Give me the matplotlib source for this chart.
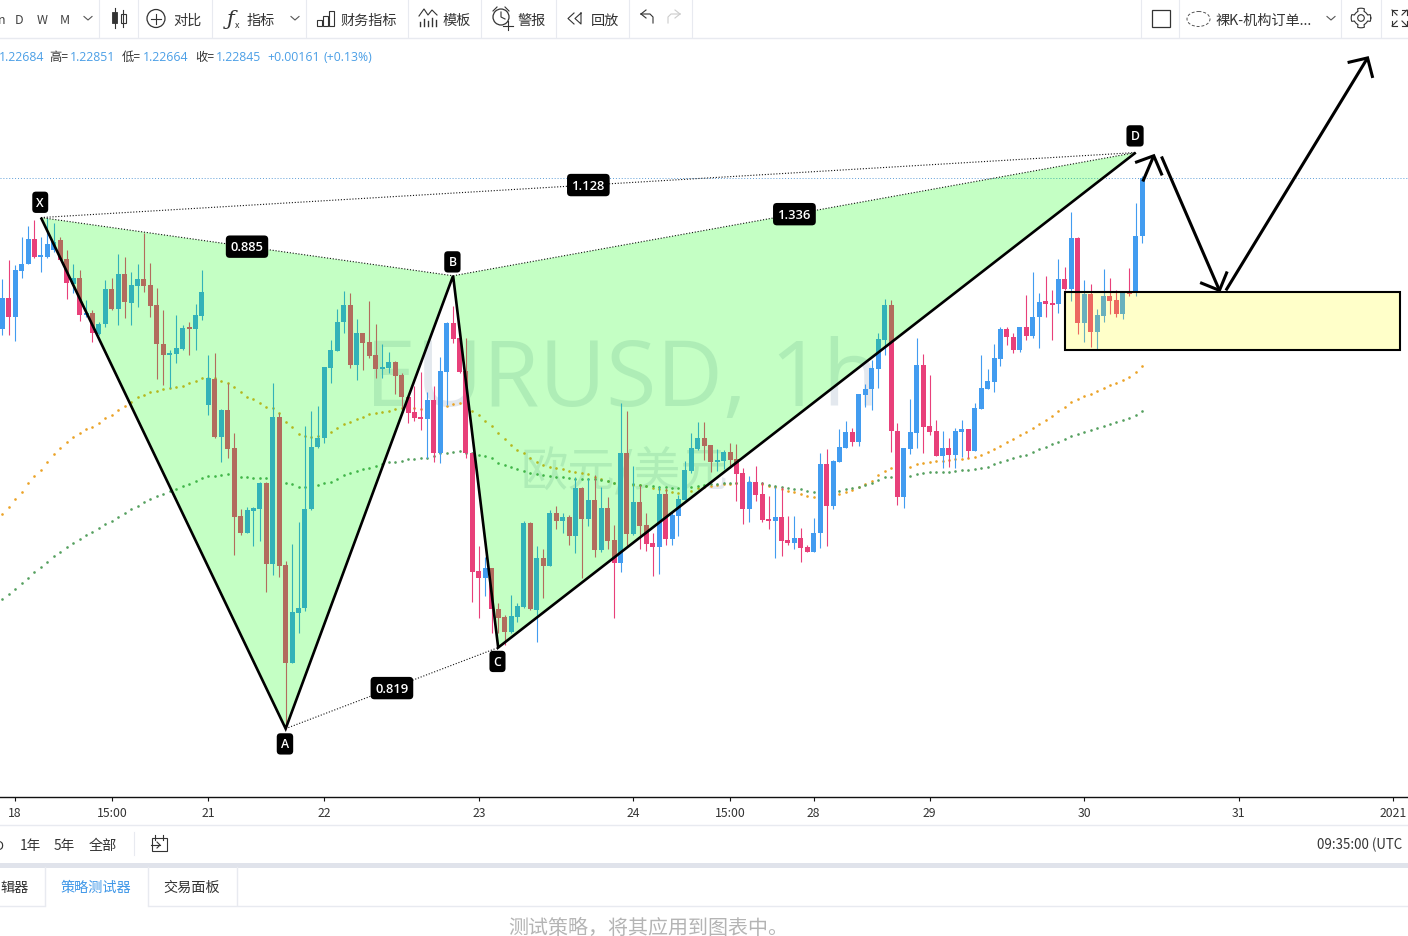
import matplotlib
matplotlib.use("Agg")
import matplotlib.pyplot as plt
import numpy as np
from matplotlib.lines import Line2D
from matplotlib.patches import Polygon, Rectangle, Circle, Ellipse
from matplotlib.transforms import Affine2D

plt.rcParams['font.family'] = ['Noto Sans CJK SC', 'DejaVu Sans']

# ---------- data: prices are in 1e-5 above 1.21000 ----------
open_pts = [1424,1511,1457,1586,1606,1676,1625,1625,1645,1673,
 1620,1550,1567,1463,1469,1410,1438,1536,1480,1578,
 1497,1544,1564,1547,1491,1382,1351,1354,1368,1427,
 1424,1460,1211,1284,1121,1197,1091,900,853,914,
 920,993,766,1177,763,489,629,643,920,1093,
 1119,1315,1362,1443,1491,1323,1413,1387,1351,1312,
 1315,1331,1295,1233,1191,1177,1172,1225,1077,1303,
 1441,1399,1306,1077,746,727,755,640,617,575,
 617,645,881,637,783,760,909,886,897,844,
 979,892,945,805,923,833,769,1077,850,939,
 875,825,813,962,836,900,945,1026,1088,1119,
 1099,1051,1054,1079,1060,1021,920,995,962,892,
 886,897,833,825,839,813,799,853,1046,928,
 1051,1091,1135,1107,1239,1256,1312,1393,1491,1138,
 953,1088,1133,1323,1152,1138,1068,1091,1071,1135,
 1144,1082,1200,1256,1275,1340,1424,1401,1365,1429,
 1404,1457,1502,1497,1494,1564,1536,1679,1441,1522,
 1415,1460,1516,1505,1466,1525,1525,1684]
close_pts = [1511,1457,1589,1606,1676,1625,1628,1662,1667,1617,
 1553,1567,1463,1469,1413,1438,1536,1480,1578,1499,
 1547,1564,1544,1488,1382,1351,1357,1371,1427,1424,
 1463,1527,1287,1121,1197,1088,897,853,917,923,
 993,766,1177,760,489,631,643,920,1093,1119,
 1317,1365,1443,1491,1323,1413,1385,1348,1312,1317,
 1331,1292,1233,1189,1175,1172,1225,1077,1306,1441,
 1396,1303,1077,743,727,755,640,615,575,620,
 648,881,640,783,760,909,886,897,844,979,
 892,945,805,923,830,769,1077,850,939,872,
 822,813,962,836,903,948,1029,1091,1119,1096,
 1051,1057,1079,1057,1018,920,995,959,889,886,
 897,830,825,839,811,799,853,1046,928,1054,
 1093,1135,1107,1242,1256,1315,1396,1491,1138,953,
 1091,1135,1323,1149,1135,1068,1091,1071,1138,1144,
 1082,1203,1259,1278,1343,1424,1401,1365,1429,1404,
 1457,1499,1494,1491,1564,1536,1679,1441,1522,1415,
 1463,1516,1502,1466,1525,1522,1684,1845]
high_pts = [1564,1617,1603,1681,1712,1729,1681,1735,1721,1681,
 1645,1606,1589,1505,1477,1443,1561,1567,1634,1625,
 1583,1606,1693,1609,1539,1477,1365,1463,1435,1443,
 1494,1589,1351,1357,1200,1273,1133,920,925,925,
 995,995,1273,1189,774,822,883,1152,1194,1208,
 1317,1393,1480,1530,1525,1452,1413,1502,1438,1382,
 1359,1334,1301,1239,1264,1303,1247,1264,1345,1443,
 1488,1399,1399,1077,816,785,755,657,623,679,
 657,886,883,816,808,917,928,909,903,1009,
 981,1007,1015,981,953,875,1217,1194,1040,987,
 909,853,984,979,911,959,1054,1133,1163,1163,
 1099,1088,1085,1105,1102,1035,1012,1040,995,956,
 981,981,900,900,867,819,895,1077,1088,1057,
 1144,1166,1147,1242,1270,1337,1413,1508,1505,1161,
 1091,1228,1399,1354,1295,1169,1138,1119,1147,1169,
 1144,1217,1351,1312,1382,1429,1429,1413,1429,1519,
 1583,1525,1572,1533,1620,1597,1751,1681,1561,1550,
 1480,1592,1567,1533,1525,1595,1777,1851]
low_pts = [1407,1407,1390,1567,1606,1623,1583,1623,1639,1617,
 1508,1525,1446,1457,1387,1407,1429,1477,1435,1455,
 1435,1485,1527,1457,1284,1267,1259,1329,1365,1351,
 1365,1449,1183,1119,1051,1063,791,847,853,816,
 830,687,735,729,304,489,573,634,917,1091,
 1105,1273,1362,1413,1315,1281,1309,1343,1287,1287,
 1301,1242,1200,1161,1166,1141,1063,1051,1049,1211,
 1385,1301,1063,659,615,676,573,573,539,573,
 603,643,637,547,671,760,864,853,819,797,
 727,872,785,799,808,615,743,813,847,808,
 802,732,738,819,819,844,945,1021,1085,1057,
 1023,1026,1032,1035,942,878,883,942,883,864,
 783,788,819,808,771,799,799,811,816,920,
 1051,1091,1096,1096,1205,1197,1259,1351,1079,931,
 923,1074,1091,1077,1127,1068,1035,1037,1035,1065,
 1063,1082,1200,1256,1247,1320,1379,1357,1359,1393,
 1399,1371,1457,1393,1469,1533,1502,1410,1387,1373,
 1368,1443,1466,1457,1452,1516,1516,1664]
ma_orange = [906,925,948,967,993,1012,1029,1051,1074,1091,
 1107,1121,1133,1144,1149,1161,1175,1183,1197,1208,
 1219,1233,1239,1247,1250,1256,1259,1261,1264,1273,
 1278,1287,1287,1287,1278,1273,1261,1247,1233,1228,
 1217,1205,1203,1189,1163,1149,1130,1124,1121,1124,
 1127,1135,1147,1158,1163,1172,1177,1186,1189,1191,
 1194,1200,1203,1203,1203,1200,1203,1203,1205,1208,
 1214,1217,1211,1194,1183,1166,1152,1133,1116,1099,
 1085,1077,1063,1051,1043,1037,1035,1032,1026,1023,
 1021,1018,1009,1004,998,993,990,987,987,987,
 984,979,976,973,967,965,965,970,979,981,
 984,987,990,990,993,993,993,993,990,984,
 981,976,970,967,962,956,953,956,959,962,
 962,967,973,981,990,998,1015,1026,1035,1035,
 1035,1037,1046,1049,1051,1054,1054,1057,1060,1060,
 1063,1065,1071,1079,1088,1096,1107,1116,1127,1135,
 1147,1158,1169,1180,1194,1205,1219,1228,1236,1242,
 1250,1259,1267,1273,1281,1289,1303,1320]
ma_green = [668,682,696,713,727,743,757,771,788,799,
 813,825,836,847,855,867,878,886,897,909,
 920,928,939,948,956,962,970,976,984,990,
 998,1007,1012,1012,1015,1018,1012,1009,1009,1007,
 1007,1007,1001,995,993,990,981,981,981,987,
 993,995,1004,1015,1021,1026,1032,1035,1040,1046,
 1051,1051,1054,1060,1060,1063,1063,1068,1077,1077,
 1079,1082,1077,1077,1071,1068,1063,1049,1043,1037,
 1032,1026,1021,1018,1015,1012,1009,1009,1007,1004,
 1004,1004,1004,1001,998,993,990,990,990,987,
 984,984,981,981,979,979,976,981,984,987,
 990,990,993,993,993,995,995,993,993,987,
 984,981,979,976,976,970,967,970,970,970,
 970,976,979,981,987,993,1001,1009,1009,1009,
 1012,1012,1018,1021,1023,1023,1023,1023,1026,1029,
 1029,1032,1035,1037,1046,1051,1057,1063,1068,1071,
 1079,1088,1093,1102,1107,1116,1124,1130,1135,1141,
 1147,1152,1158,1163,1169,1175,1183,1194]

tick_idx = [2, 17, 32, 50, 74, 98, 113, 126, 144, 168, 192, 216]
tick_labels = ['18', '15:00', '21', '22', '23', '24', '15:00', '28', '29', '30', '31', '2021']

# harmonic pattern pivots (bar index, price)
pattern_names = ['X', 'A', 'B', 'C', 'D']
pattern_idx = [6, 44, 70, 77, 176]
pattern_price = [1735, 304, 1572, 531, 1917]
ratio_labels = ['0.885', '0.819', '1.128', '1.336']
last_close = 1845

zone_idx = [165, 217]
zone_price = [1365, 1527]

arrow_idx = [[177.1, 178.8], [180.0, 189.0], [190.0, 212.0]]
arrow_price = [[1836, 1908], [1906, 1531], [1531, 2182]]
barb_idx = [[175.9, 180.1], [186.0, 190.2], [208.9, 212.8]]
barb_price = [[1889, 1853], [1553, 1584], [2169, 2126]]

header_parts = [('1.22684', -1, 1), ('高=', 49, 0), ('1.22851', 70, 1), ('低=', 122, 0), ('1.22664', 143, 1),
                ('收=', 195, 0), ('1.22845', 216, 1), ('+0.00161', 267, 1), ('(+0.13%)', 323, 1)]

# ---------- figure ----------
W, H = 1408, 937
fig = plt.figure(figsize=(W / 100, H / 100), dpi=100, facecolor='white')
px = Affine2D().scale(1, -1).translate(0, H)
PXW = 6.44

ax = fig.add_axes([0, (H - 797.7) / H, 1, (797 - 39) / H])
ax.set_xlim((0 - 2.3) / PXW, (W - 2.3) / PXW)
ax.set_ylim(113.4, 2235.8)
for s in ['top', 'left', 'right']:
    ax.spines[s].set_visible(False)
ax.spines['bottom'].set_color('#111111')
ax.spines['bottom'].set_linewidth(1.0)
ax.set_yticks([])
ax.set_xticks(tick_idx)
ax.set_xticklabels(tick_labels, fontsize=8.8, color='#333333')
ax.tick_params(axis='x', length=2.6, width=0.8, pad=3.8, color='#111111')

UP, DOWN = '#429cf0', '#e8407a'
idx = np.arange(len(open_pts))
o, h, l, c = map(np.array, (open_pts, high_pts, low_pts, close_pts))
cols = [UP if cc >= oo else DOWN for oo, cc in zip(o, c)]

# watermark
ax.text(622, 406, 'EURUSD, 1h', transform=px, ha='center', va='baseline',
        fontsize=66, color='#e3e8ee', family=['Open Sans', 'DejaVu Sans'], zorder=0.5)
ax.text(624, 473, '欧元/美元', transform=px, ha='center', va='center', fontsize=34, color='#e3e8ee', zorder=0.5)

ax.axhline(last_close, color='#5f9fd8', lw=0.7, ls=(0, (1, 2)), zorder=1)

ax.plot(idx, ma_orange, ls='none', marker='o', ms=1.9, mew=0, color='#eba327', zorder=2)
ax.plot(idx, ma_green, ls='none', marker='o', ms=1.9, mew=0, color='#55a05f', zorder=2)

ax.vlines(idx, l, h, colors=cols, lw=0.8, zorder=3)
heights = np.maximum(np.abs(c - o), 4)
ax.bar(idx, heights, bottom=np.minimum(o, c), width=5 / PXW, color=cols, lw=0, zorder=3)

# pattern
pts = np.column_stack([pattern_idx, pattern_price]).astype(float)
X, A, B, C, D = pts
ax.add_patch(Polygon([X, A, B], closed=True, fc=(0, 1, 0), alpha=0.23, lw=0, zorder=4))
ax.add_patch(Polygon([B, C, D], closed=True, fc=(0, 1, 0), alpha=0.23, lw=0, zorder=4))
ax.plot(*zip(X, A, B, C, D), color='black', lw=1.9, zorder=6, solid_joinstyle='miter', solid_capstyle='butt')
pairs = [(X, B), (A, C), (X, D), (B, D)]
for (p, q), lab in zip(pairs, ratio_labels):
    ax.plot(*zip(p, q), color='#111111', lw=0.8, ls=(0, (1, 1.6)), zorder=5)
    ax.text((p[0] + q[0]) / 2, (p[1] + q[1]) / 2, lab, color='white', fontsize=9.4, fontweight='semibold',
            ha='center', va='center', family=['Open Sans', 'DejaVu Sans'], zorder=8,
            bbox=dict(boxstyle='round,pad=0.36,rounding_size=0.3', fc='black', ec='black', lw=0))
offs = [11, -11, 10, -10, 12]
for name, p, off in zip(pattern_names, pts, offs):
    ax.annotate(name, xy=p, xytext=(-0.5, off), textcoords='offset points', color='white', fontsize=8.8,
                fontweight='semibold', ha='center', va='center', family=['Open Sans', 'DejaVu Sans'], zorder=8,
                bbox=dict(boxstyle='round,pad=0.34,rounding_size=0.3', fc='black', ec='black', lw=0))

# zone
ax.add_patch(Rectangle((zone_idx[0], zone_price[0]), zone_idx[1] - zone_idx[0], zone_price[1] - zone_price[0],
                       fc=(1, 1, 0, 0.21), ec='black', lw=1.5, zorder=5))

# hand-drawn arrows
for (xs, ys, bx, by) in zip(arrow_idx, arrow_price, barb_idx, barb_price):
    ax.plot(xs, ys, color='black', lw=2.2, zorder=7, solid_capstyle='butt')
    ax.plot([bx[0], xs[1], bx[1]], [by[0], ys[1], by[1]], color='black', lw=2.2, zorder=7,
            solid_joinstyle='miter', solid_capstyle='butt')


# ---------- surrounding interface ----------
def ui(xs, ys, color='#333333', lw=0.8, **kw):
    fig.add_artist(Line2D(xs, ys, transform=px, color=color, lw=lw, **kw))


def txt(x, y, s, size=10.2, color='#333333', ha='center', **kw):
    fig.text(x, y + 1.2, s, transform=px, fontsize=size, color=color, ha=ha, va='center', **kw)


SEP = '#e8eaf0'
ui([0, W], [38.5, 38.5], SEP, 1)
for x in [99, 137.5, 212, 306, 407.5, 481, 556, 629, 692, 1141, 1179, 1341, 1381]:
    ui([x, x], [0, 38], SEP, 0.8)
for x, s in [(2, 'n'), (19, 'D'), (42, 'W'), (65, 'M')]:
    txt(x, 19, s, 9, '#444444')
for x in (88, 295, 1331):
    ui([x - 4, x, x + 4], [17.5, 21, 17.5], '#555555', 0.8)

# candle icon
ui([114.5, 114.5], [9, 29]); ui([123, 123], [11, 28])
fig.add_artist(Rectangle((112, 13), 5, 11, transform=px, fc='#333333', ec='#333333', lw=0.6))
fig.add_artist(Rectangle((120.5, 15), 5, 9, transform=px, fc='white', ec='#333333', lw=0.8))
# compare
fig.add_artist(Circle((156, 19.5), 9, transform=px, fc='none', ec='#333333', lw=0.9))
ui([151, 161], [19.5, 19.5]); ui([156, 156], [14.5, 24.5])
txt(187, 20, '对比')
# indicators
txt(231, 18, 'ƒ', 15, '#333333', style='italic', family='DejaVu Serif')
txt(237, 24, 'x', 6.5)
txt(261, 20, '指标')
# financials
for x0, y0 in [(317, 21), (323, 17), (329, 12)]:
    fig.add_artist(Rectangle((x0, y0), 5, 27 - y0, transform=px, fc='none', ec='#333333', lw=0.8))
txt(369, 20, '财务指标')
# templates
ui([419, 424, 428, 432, 437], [17, 10, 16, 11, 16], '#333333', 0.8)
for x0, y0 in [(420, 23), (424, 20), (428, 22), (432, 19), (436, 21)]:
    ui([x0, x0], [y0, 27], '#333333', 1)
txt(457, 20, '模板')
# alarm
fig.add_artist(Circle((501, 18), 8, transform=px, fc='none', ec='#333333', lw=0.9))
ui([501, 501, 505], [13, 18, 20]); ui([508, 508], [22, 31]); ui([503, 513], [26.5, 26.5])
ui([493, 497], [12, 8]); ui([505, 509], [8, 12])
txt(532, 20, '警报')
# replay
ui([574, 568, 574], [14, 19.5, 25]); ui([581, 575, 581, 581], [14, 19.5, 25, 14])
txt(605, 20, '回放')
# undo/redo
ui([641, 646], [15, 11]); ui([641, 646], [15, 19]); ui([641, 650, 653, 653], [15, 15, 18, 24])
ui([680, 675], [15, 11], '#cccccc'); ui([680, 675], [15, 19], '#cccccc'); ui([680, 671, 668, 668], [15, 15, 18, 24], '#cccccc')

# right side
fig.add_artist(Rectangle((1152, 11), 18, 17, transform=px, fc='none', ec='#333333', lw=0.9))
fig.add_artist(Ellipse((1198.5, 20), 23, 15, transform=px, fc='none', ec='#555555', lw=0.7, ls=(0, (3, 2))))
txt(1215, 20, '裸K-机构订单...', ha='left')
theta = np.radians(np.arange(0, 361, 5))
rg = 8.5 + 1.3 * np.sign(np.cos(4 * theta))
ui(1361 + rg * np.cos(theta), 19 + rg * np.sin(theta), '#333333', 0.8)
fig.add_artist(Circle((1361, 19), 3.3, transform=px, fc='none', ec='#333333', lw=0.8))
for x0, y0, dx, dy in [(1392, 11, 1, 1), (1407, 11, -1, 1), (1392, 27, 1, -1), (1407, 27, -1, -1)]:
    ui([x0 + 5 * dx, x0, x0], [y0, y0, y0 + 5 * dy], '#333333', 0.8)
    ui([x0, x0 + 5 * dx], [y0, y0 + 5 * dy], '#333333', 0.8)

# legend line
for s, x, blue in header_parts:
    txt(x, 56, s, 8.8, '#4b9fe6' if blue else '#333333', ha='left', family=['Open Sans', 'Noto Sans CJK SC'])

# lower toolbar
ui([0, W], [825.5, 825.5], SEP, 1)
txt(-1, 845, 'D', 9.4, ha='center')
txt(30, 845, '1年', 9.8); txt(64, 845, '5年', 9.8); txt(103, 845, '全部')
ui([133.5, 133.5], [833, 856], SEP, 0.8)
fig.add_artist(Rectangle((152, 839), 15, 13, transform=px, fc='none', ec='#333333', lw=0.8))
ui([151, 160], [846, 846]); ui([157, 160, 157], [843, 846, 849])
ui([155, 155], [836, 841]); ui([163, 163], [836, 841])
txt(1317, 844, '09:35:00 (UTC', 9.6, '#333333', ha='left')

fig.add_artist(Rectangle((0, 864), W, 4.5, transform=px, fc='#e0e3eb', ec='none'))
for x in (44.5, 147.5, 236.5):
    ui([x, x], [868, 906], SEP, 1)
ui([0, 44.5], [906.5, 906.5], SEP, 1)
ui([147.5, W], [906.5, 906.5], SEP, 1)
txt(15, 887, '辑器')
txt(96, 887, '策略测试器', color='#3f97e8')
txt(192, 887, '交易面板')
txt(648.5, 927, '测试策略，将其应用到图表中。', 14.4, '#b4b4b4')

fig.savefig('out.png', dpi=100)
